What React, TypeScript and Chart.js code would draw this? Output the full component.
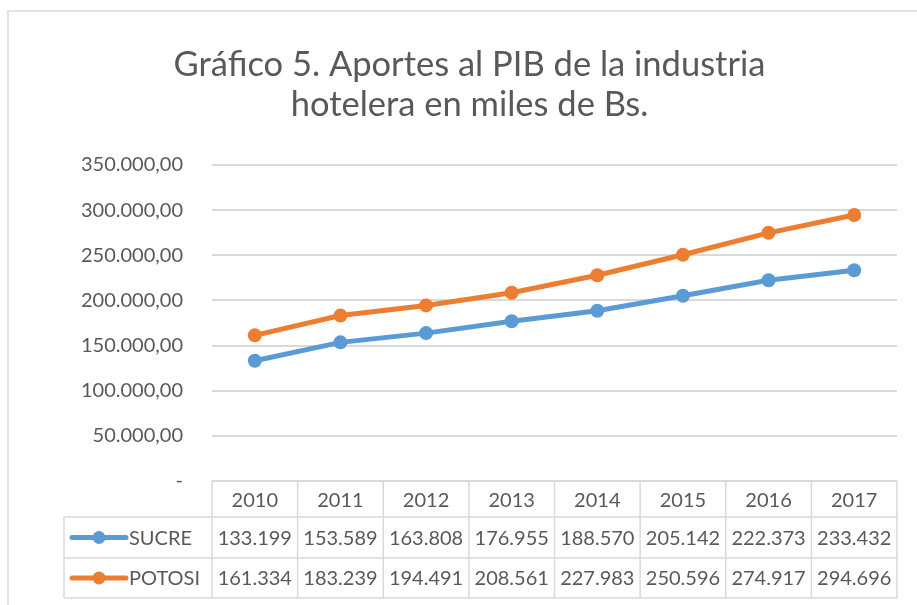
import React, { useEffect, useRef } from "react";
import { Chart, registerables } from "chart.js";

Chart.register(...registerables);

const years = ["2010", "2011", "2012", "2013", "2014", "2015", "2016", "2017"];
const sucre = [133199, 153589, 163808, 176955, 188570, 205142, 222373, 233432];
const potosi = [161334, 183239, 194491, 208561, 227983, 250596, 274917, 294696];
const seriesNames = ["SUCRE", "POTOSI"];
const seriesColors = ["#5B9BD5", "#ED7D31"];
const titleLines = ["Gráfico 5. Aportes al PIB de la industria", "hotelera en miles de Bs."];

const FONT = "Lato, 'Open Sans', sans-serif";
const TEXT = "#595959";
const GRID = "#d9d9d9";

function fmtTick(v: number): string {
  if (v === 0) return "-";
  const s = Math.round(v).toString().replace(/\B(?=(\d{3})+(?!\d))/g, ".");
  return s + ",00";
}
function fmtCell(v: number): string {
  return Math.round(v).toString().replace(/\B(?=(\d{3})+(?!\d))/g, ".");
}

const tablePlugin = {
  id: "dataTable",
  beforeDraw(chart: any) {
    const ctx = chart.ctx;
    ctx.save();
    ctx.strokeStyle = "#e2e2e2";
    ctx.lineWidth = 2;
    ctx.strokeRect(8, 11, 1200, 1200);
    ctx.restore();
  },
  afterDraw(chart: any) {
    const ctx = chart.ctx;
    const area = chart.chartArea;
    const x = chart.scales.x;
    const n = years.length;
    const colW = (area.right - area.left) / n;
    const top = area.bottom;
    const rowH = [36, 41, 40];
    const y1 = top + rowH[0];
    const y2 = y1 + rowH[1];
    const y3 = y2 + rowH[2];
    const legLeft = 64;
    ctx.save();
    ctx.strokeStyle = GRID;
    ctx.lineWidth = 1.5;
    ctx.beginPath();
    ctx.moveTo(area.left, top);
    ctx.lineTo(area.right, top);
    ctx.moveTo(legLeft, y1);
    ctx.lineTo(area.right, y1);
    ctx.moveTo(legLeft, y2);
    ctx.lineTo(area.right, y2);
    ctx.moveTo(legLeft, y3);
    ctx.lineTo(area.right, y3);
    for (let i = 0; i <= n; i++) {
      const xx = area.left + i * colW;
      ctx.moveTo(xx, top);
      ctx.lineTo(xx, y3);
    }
    ctx.moveTo(legLeft, y1);
    ctx.lineTo(legLeft, y3);
    ctx.stroke();

    ctx.fillStyle = TEXT;
    ctx.font = `20px ${FONT}`;
    ctx.textAlign = "center";
    ctx.textBaseline = "middle";
    years.forEach((yr, i) => {
      const cx = x.getPixelForValue(i);
      ctx.fillText(yr, cx, (top + y1) / 2 + 2);
    });
    const rows = [sucre, potosi];
    const rowMid = [(y1 + y2) / 2 + 1, (y2 + y3) / 2 + 1];
    rows.forEach((vals, r) => {
      vals.forEach((v, i) => {
        const cx = x.getPixelForValue(i);
        ctx.fillText(fmtCell(v), cx, rowMid[r]);
      });
      const my = rowMid[r] - 1;
      ctx.strokeStyle = seriesColors[r];
      ctx.lineWidth = 5;
      ctx.lineCap = "round";
      ctx.beginPath();
      ctx.moveTo(72, my);
      ctx.lineTo(126, my);
      ctx.stroke();
      ctx.fillStyle = seriesColors[r];
      ctx.beginPath();
      ctx.arc(99, my, 6.5, 0, Math.PI * 2);
      ctx.fill();
      ctx.fillStyle = TEXT;
      ctx.textAlign = "left";
      ctx.fillText(seriesNames[r], 129, rowMid[r]);
      ctx.textAlign = "center";
    });
    ctx.restore();
  },
};

export default function App() {
  const ref = useRef<HTMLCanvasElement | null>(null);
  useEffect(() => {
    document.body.style.margin = "0";
    const canvas = ref.current;
    if (!canvas) return;
    const chart = new Chart(canvas, {
      type: "line",
      data: {
        labels: years,
        datasets: [
          {
            label: seriesNames[0],
            data: sucre,
            borderColor: seriesColors[0],
            backgroundColor: seriesColors[0],
            borderWidth: 5,
            pointRadius: 7,
            pointBackgroundColor: seriesColors[0],
            pointBorderWidth: 0,
            tension: 0,
          },
          {
            label: seriesNames[1],
            data: potosi,
            borderColor: seriesColors[1],
            backgroundColor: seriesColors[1],
            borderWidth: 5,
            pointRadius: 7,
            pointBackgroundColor: seriesColors[1],
            pointBorderWidth: 0,
            tension: 0,
          },
        ],
      },
      options: {
        animation: false,
        responsive: false,
        maintainAspectRatio: false,
        layout: { padding: { left: 42, right: 20, top: 0, bottom: 124 } },
        plugins: {
          legend: { display: false },
          tooltip: { enabled: false },
          title: {
            display: true,
            text: titleLines,
            color: TEXT,
            font: { family: FONT, size: 34.5, weight: "normal", lineHeight: 1.16 },
            padding: { top: 45, bottom: 40 },
          },
        },
        scales: {
          x: {
            type: "category",
            offset: true,
            display: false,
            grid: { display: false },
          },
          y: {
            min: 0,
            max: 350000,
            afterFit(scale: any) {
              scale.width = 170;
            },
            ticks: {
              stepSize: 50000,
              color: TEXT,
              padding: 29,
              font: { family: FONT, size: 20 },
              callback: (v: any) => fmtTick(Number(v)),
            },
            border: { display: false },
            grid: { color: GRID, lineWidth: 2, drawTicks: false },
          },
        },
      },
      plugins: [tablePlugin],
    } as any);
    return () => chart.destroy();
  }, []);
  return (
    <div style={{ width: 917, height: 605 }}>
      <canvas ref={ref} width={917} height={605} style={{ display: "block" }} />
    </div>
  );
}
